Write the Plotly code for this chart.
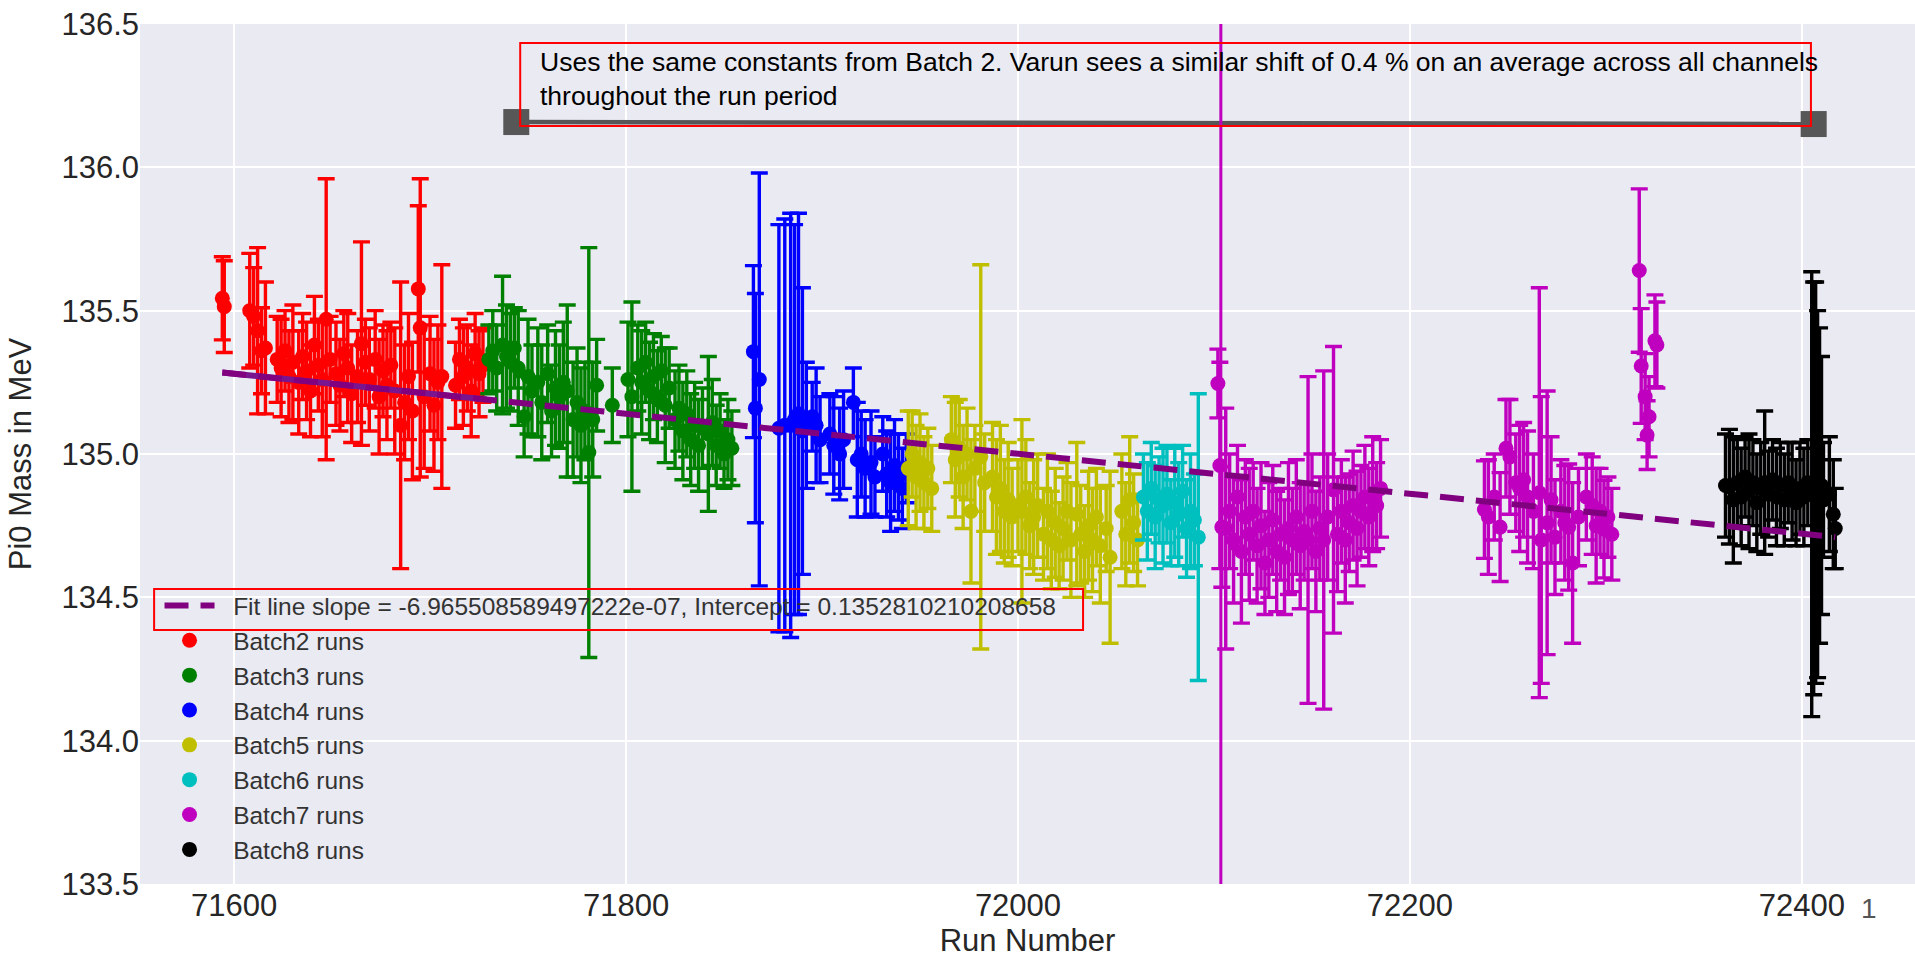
import plotly.graph_objects as go

# ---------------- data ----------------
runs_b2 = [71594, 71595, 71608, 71610, 71612, 71614, 71616, 71622, 71624, 71626, 71628, 71630,
           71633, 71635, 71637, 71639, 71641, 71643, 71645, 71647, 71649, 71652, 71654, 71656,
           71658, 71660, 71663, 71665, 71667, 71669, 71672, 71674, 71676, 71678, 71680, 71682,
           71685, 71687, 71689, 71691, 71694, 71695, 71697, 71700, 71702, 71704, 71706, 71713,
           71715, 71717, 71719, 71721, 71723, 71725, 71727]
mass_b2 = [135.543, 135.514, 135.50, 135.48, 135.43, 135.36, 135.37, 135.33, 135.30, 135.36, 135.27, 135.32,
           135.25, 135.34, 135.29, 135.22, 135.38, 135.31, 135.26, 135.47, 135.33, 135.28, 135.24, 135.35,
           135.30, 135.21, 135.27, 135.385, 135.32, 135.26, 135.33, 135.20, 135.29, 135.24, 135.31, 135.22,
           135.10, 135.18, 135.27, 135.15, 135.576, 135.44, 135.20, 135.28, 135.17, 135.25, 135.27, 135.24,
           135.33, 135.27, 135.30, 135.22, 135.35, 135.28, 135.31]
err_b2 = [0.145, 0.16, 0.20, 0.17, 0.29, 0.15, 0.23, 0.15, 0.17, 0.14, 0.16, 0.20,
          0.18, 0.15, 0.17, 0.16, 0.17, 0.16, 0.20, 0.49, 0.15, 0.18, 0.16, 0.15,
          0.19, 0.17, 0.16, 0.355, 0.15, 0.18, 0.17, 0.20, 0.16, 0.19, 0.15, 0.22,
          0.50, 0.20, 0.22, 0.24, 0.29, 0.52, 0.25, 0.20, 0.23, 0.20, 0.39, 0.15,
          0.14, 0.17, 0.15, 0.16, 0.14, 0.15, 0.13]

runs_b3 = [71730, 71732, 71734, 71737, 71739, 71741, 71743, 71745, 71748, 71750, 71752, 71755,
           71757, 71760, 71762, 71764, 71766, 71768, 71770, 71773, 71775, 71777, 71779, 71781,
           71783, 71785, 71793, 71801, 71803, 71806, 71808, 71810, 71812, 71814, 71816, 71818,
           71820, 71822, 71825, 71827, 71829, 71831, 71833, 71835, 71837, 71839, 71842, 71844,
           71846, 71848, 71850, 71852, 71854]
mass_b3 = [135.33, 135.36, 135.30, 135.38, 135.34, 135.32, 135.37, 135.30, 135.13, 135.27, 135.22, 135.25,
           135.18, 135.28, 135.15, 135.23, 135.20, 135.25, 135.22, 135.12, 135.18, 135.10, 135.15, 135.005,
           135.12, 135.24, 135.17, 135.26, 135.20, 135.30, 135.25, 135.32, 135.22, 135.27, 135.20, 135.29,
           135.17, 135.23, 135.12, 135.16, 135.08, 135.14, 135.05, 135.10, 135.03, 135.09, 135.07, 135.11,
           135.03, 135.08, 135.00, 135.05, 135.02]
err_b3 = [0.12, 0.14, 0.15, 0.24, 0.18, 0.17, 0.14, 0.20, 0.14, 0.20, 0.16, 0.19,
          0.20, 0.17, 0.16, 0.20, 0.18, 0.21, 0.30, 0.20, 0.19, 0.20, 0.17, 0.715,
          0.20, 0.16, 0.13, 0.20, 0.33, 0.15, 0.18, 0.14, 0.17, 0.15, 0.16, 0.12,
          0.20, 0.14, 0.17, 0.15, 0.17, 0.15, 0.16, 0.15, 0.16, 0.14, 0.27, 0.15,
          0.14, 0.13, 0.12, 0.14, 0.13]

runs_b4 = [71865, 71866, 71868, 71878, 71881, 71884, 71886, 71888, 71890, 71892, 71895, 71897,
           71899, 71904, 71906, 71909, 71911, 71916, 71918, 71920, 71922, 71925, 71927, 71931,
           71933, 71935, 71937, 71939, 71941, 71943]
mass_b4 = [135.357, 135.16, 135.26, 135.09, 135.10, 135.10, 135.12, 135.14, 135.08, 135.10, 135.13, 135.10,
           135.05, 135.07, 135.03, 135.00, 135.05, 135.18, 134.98, 135.00, 134.95, 134.97, 134.92, 135.00,
           134.93, 134.90, 134.96, 134.92, 134.88, 134.95]
err_b4 = [0.30, 0.40, 0.72, 0.71, 0.72, 0.74, 0.68, 0.70, 0.50, 0.22, 0.12, 0.20,
          0.15, 0.14, 0.17, 0.16, 0.17, 0.12, 0.20, 0.15, 0.17, 0.18, 0.14, 0.13,
          0.15, 0.17, 0.16, 0.15, 0.14, 0.12]

runs_b5 = [71944, 71946, 71948, 71950, 71952, 71954, 71956, 71966, 71968, 71970, 71972, 71974,
           71976, 71978, 71981, 71983, 71987, 71989, 71991, 71993, 71995, 71997, 72000, 72002,
           72004, 72006, 72008, 72010, 72013, 72015, 72017, 72019, 72021, 72023, 72025, 72027,
           72030, 72032, 72034, 72036, 72038, 72040, 72042, 72045, 72047, 72053, 72055, 72057,
           72059, 72061]
mass_b5 = [134.95, 135.00, 134.92, 134.97, 134.90, 134.95, 134.88, 135.05, 134.98, 135.02, 134.92, 135.00,
           134.80, 134.95, 134.99, 134.90, 134.92, 134.85, 134.88, 134.80, 134.84, 134.78, 134.82, 134.80,
           134.85, 134.75, 134.78, 134.82, 134.72, 134.80, 134.70, 134.76, 134.68, 134.74, 134.80, 134.70,
           134.79, 134.72, 134.66, 134.75, 134.70, 134.78, 134.68, 134.74, 134.64, 134.80, 134.72, 134.84,
           134.76, 134.70]
err_b5 = [0.20, 0.15, 0.18, 0.17, 0.16, 0.14, 0.15, 0.15, 0.20, 0.17, 0.18, 0.16,
          0.25, 0.15, 0.67, 0.17, 0.19, 0.20, 0.22, 0.18, 0.20, 0.17, 0.16, 0.32,
          0.20, 0.15, 0.20, 0.18, 0.16, 0.20, 0.17, 0.19, 0.15, 0.18, 0.17, 0.20,
          0.25, 0.17, 0.16, 0.19, 0.18, 0.17, 0.20, 0.15, 0.30, 0.20, 0.18, 0.22,
          0.17, 0.16]

runs_b6 = [72064, 72066, 72068, 72070, 72072, 72074, 72076, 72078, 72080, 72082, 72084, 72086,
           72088, 72090, 72092]
mass_b6 = [134.85, 134.80, 134.88, 134.78, 134.84, 134.82, 134.86, 134.76, 134.83, 134.79, 134.87, 134.74,
           134.80, 134.77, 134.71]
err_b6 = [0.15, 0.17, 0.16, 0.18, 0.15, 0.20, 0.17, 0.15, 0.19, 0.18, 0.16, 0.17,
          0.20, 0.16, 0.50]

runs_b7 = [72102, 72103, 72104, 72106, 72108, 72110, 72112, 72114, 72116, 72118, 72120, 72122,
           72124, 72126, 72128, 72130, 72132, 72134, 72136, 72138, 72140, 72142, 72144, 72146,
           72148, 72150, 72152, 72154, 72156, 72158, 72161, 72163, 72165, 72167, 72169, 72171,
           72173, 72175, 72177, 72179, 72181, 72183, 72185,
           72238, 72240, 72243, 72246, 72249, 72251, 72254, 72256, 72258, 72260, 72263, 72266,
           72267, 72270, 72272, 72274, 72277, 72279, 72281, 72283, 72286, 72290, 72293, 72295,
           72297, 72299, 72301, 72303,
           72317, 72318, 72320, 72321, 72322, 72325, 72326]
mass_b7 = [135.246, 134.96, 134.745, 134.74, 134.80, 134.70, 134.85, 134.66, 134.78, 134.72, 134.80, 134.68,
           134.75, 134.62, 134.70, 134.77, 134.66, 134.72, 134.64, 134.74, 134.70, 134.78, 134.68, 134.73,
           134.70, 134.80, 134.66, 134.74, 134.70, 134.78, 134.875, 134.72, 134.80, 134.70, 134.76, 134.82,
           134.74, 134.80, 134.85, 134.78, 134.86, 134.82, 134.88,
           134.806, 134.78, 134.85, 134.745, 135.02, 134.99, 134.90, 134.88, 134.91, 134.85, 134.80, 134.865,
           134.70, 134.76, 134.84, 134.71, 134.80, 134.76, 134.745, 134.62, 134.78, 134.85, 134.82, 134.75,
           134.80, 134.738, 134.78, 134.72,
           135.64, 135.307, 135.20, 135.066, 135.13, 135.395, 135.38]
err_b7 = [0.12, 0.36, 0.21, 0.42, 0.20, 0.22, 0.18, 0.25, 0.20, 0.23, 0.17, 0.20,
          0.22, 0.18, 0.20, 0.19, 0.21, 0.16, 0.20, 0.23, 0.18, 0.20, 0.22, 0.17,
          0.57, 0.20, 0.21, 0.18, 0.59, 0.22, 0.50, 0.20, 0.18, 0.22, 0.17, 0.19,
          0.20, 0.16, 0.18, 0.17, 0.20, 0.15, 0.17,
          0.17, 0.20, 0.15, 0.19, 0.17, 0.20, 0.17, 0.22, 0.20, 0.23, 0.20, 0.715,
          0.50, 0.46, 0.22, 0.20, 0.18, 0.20, 0.22, 0.28, 0.17, 0.15, 0.17, 0.20,
          0.15, 0.17, 0.14, 0.16,
          0.285, 0.20, 0.15, 0.12, 0.14, 0.16, 0.15]

runs_b8 = [72361, 72363, 72365, 72367, 72369, 72371, 72373, 72375, 72377, 72379, 72381, 72383,
           72385, 72387, 72389, 72391, 72393, 72395, 72397, 72399, 72401, 72403, 72405, 72406,
           72407, 72408, 72409, 72410, 72411, 72414, 72416, 72417]
mass_b8 = [134.89, 134.886, 134.84, 134.90, 134.85, 134.92, 134.87, 134.90, 134.83, 134.88, 134.90, 134.86,
           134.91, 134.85, 134.89, 134.84, 134.90, 134.87, 134.83, 134.88, 134.85, 134.90, 134.86, 134.88,
           134.90, 134.86, 134.89, 134.89, 134.84, 134.86, 134.79, 134.74]
err_b8 = [0.18, 0.20, 0.22, 0.15, 0.17, 0.14, 0.20, 0.15, 0.17, 0.16, 0.25, 0.15,
          0.14, 0.17, 0.15, 0.16, 0.14, 0.17, 0.15, 0.16, 0.17, 0.15, 0.776, 0.72,
          0.70, 0.64, 0.55, 0.45, 0.20, 0.20, 0.19, 0.14]

# fit line end points
fit_x = [71594, 72417]
fit_y = [135.284, 134.710]
fit_solid_x = [71594, 71729]
fit_solid_y = [135.284, 135.190]

fit_label = "Fit line slope = -6.965508589497222e-07, Intercept = 0.1352810210208658"
batch_names = ["Batch2 runs", "Batch3 runs", "Batch4 runs", "Batch5 runs",
               "Batch6 runs", "Batch7 runs", "Batch8 runs"]
batch_colors = ["#FF0000", "#008000", "#0000FF", "#BFBF00", "#00BFBF", "#BF00BF", "#000000"]

vline_run = 72103.5
bracket_x = [71744, 72406]
bracket_y = [136.158, 136.151]
note_text = ("Uses the same constants from Batch 2. Varun sees a similar shift of 0.4 % on an average across all channels"
             "<br>throughout the run period")

x_ticks = [71600, 71800, 72000, 72200, 72400]
x_range = [71552, 72457.7]
y_range = [133.5, 136.5]

FONT = "Liberation Sans, Arial, sans-serif"
TXT = "#262626"
PAD = "\u00a0\u00a0"   # gap between legend handle and its label

fig = go.Figure()

series = [(runs_b2, mass_b2, err_b2), (runs_b3, mass_b3, err_b3), (runs_b4, mass_b4, err_b4),
          (runs_b5, mass_b5, err_b5), (runs_b6, mass_b6, err_b6), (runs_b7, mass_b7, err_b7),
          (runs_b8, mass_b8, err_b8)]

for i, ((xs, ys, es), name, col) in enumerate(zip(series, batch_names, batch_colors)):
    fig.add_trace(go.Scatter(
        x=xs, y=ys, mode="markers", name=PAD + name,
        marker=dict(color=col, size=15, line=dict(width=0)),
        error_y=dict(type="data", array=es, visible=True, color=col, thickness=3.4, width=8.5),
        legendrank=10 + i,
    ))

# solid overlap part of the fit line over batch 2
fig.add_trace(go.Scatter(x=fit_solid_x, y=fit_solid_y, mode="lines", showlegend=False,
                         line=dict(color="#7A1590", width=6), hoverinfo="skip"))
# dashed fit line
fig.add_trace(go.Scatter(x=fit_x, y=fit_y, mode="lines", name=PAD + fit_label,
                         line=dict(color="#800080", width=6, dash="24px,12px"),
                         legendrank=1))

# gray bracket under the note
fig.add_trace(go.Scatter(x=bracket_x, y=bracket_y, mode="lines+markers", showlegend=False,
                         line=dict(color="#575757", width=4.5),
                         marker=dict(symbol="square", size=26, color="#575757"),
                         hoverinfo="skip"))

shapes = [
    dict(type="line", xref="x", yref="paper", x0=vline_run, x1=vline_run, y0=0, y1=1,
         line=dict(color="#BF00BF", width=3), layer="above"),
    # red markup boxes
    dict(type="rect", xref="x", yref="y", x0=71746, x1=72404.6, y0=136.144, y1=136.434,
         line=dict(color="#FF0000", width=2), layer="above"),
    dict(type="rect", xref="x", yref="y", x0=71559.2, x1=72033.2, y0=134.386, y1=134.529,
         line=dict(color="#FF0000", width=2), layer="above"),
]

annotations = [
    dict(x=71755, y=136.308, xref="x", yref="y", text=note_text, showarrow=False,
         xanchor="left", yanchor="middle", align="left",
         font=dict(family=FONT, size=26.5, color="#000000")),
    dict(x=0.974, y=-0.029, xref="paper", yref="paper", text="1", showarrow=False,
         xanchor="center", yanchor="middle", font=dict(family=FONT, size=28, color="#555555")),
]

fig.update_layout(
    width=1915, height=958,
    margin=dict(l=140, r=0, t=24, b=74, autoexpand=False),
    paper_bgcolor="#FFFFFF", plot_bgcolor="#EAEAF2",
    font=dict(family=FONT, color=TXT),
    showlegend=True,
    legend=dict(x=0.011, y=0.350, xanchor="left", yanchor="top",
                bgcolor="rgba(0,0,0,0)", borderwidth=0, itemwidth=50,
                font=dict(family=FONT, size=24.5, color="#333333"),
                traceorder="normal"),
    shapes=shapes, annotations=annotations,
    xaxis=dict(range=x_range, tickvals=x_ticks, ticktext=[str(v) for v in x_ticks],
               showgrid=True, gridcolor="#FFFFFF", gridwidth=1.8, zeroline=False,
               showline=False, ticks="", tickfont=dict(size=31, color=TXT),
               title=dict(text="Run Number", font=dict(size=31, color=TXT), standoff=12),
               automargin=False),
    yaxis=dict(range=y_range, dtick=0.5, tick0=133.5, tickformat=".1f",
               showgrid=True, gridcolor="#FFFFFF", gridwidth=1.8, zeroline=False,
               showline=False, ticks="", tickfont=dict(size=31, color=TXT),
               title=dict(text="Pi0 Mass in MeV", font=dict(size=31, color=TXT), standoff=20),
               automargin=False),
)

fig.write_html("out.html")
